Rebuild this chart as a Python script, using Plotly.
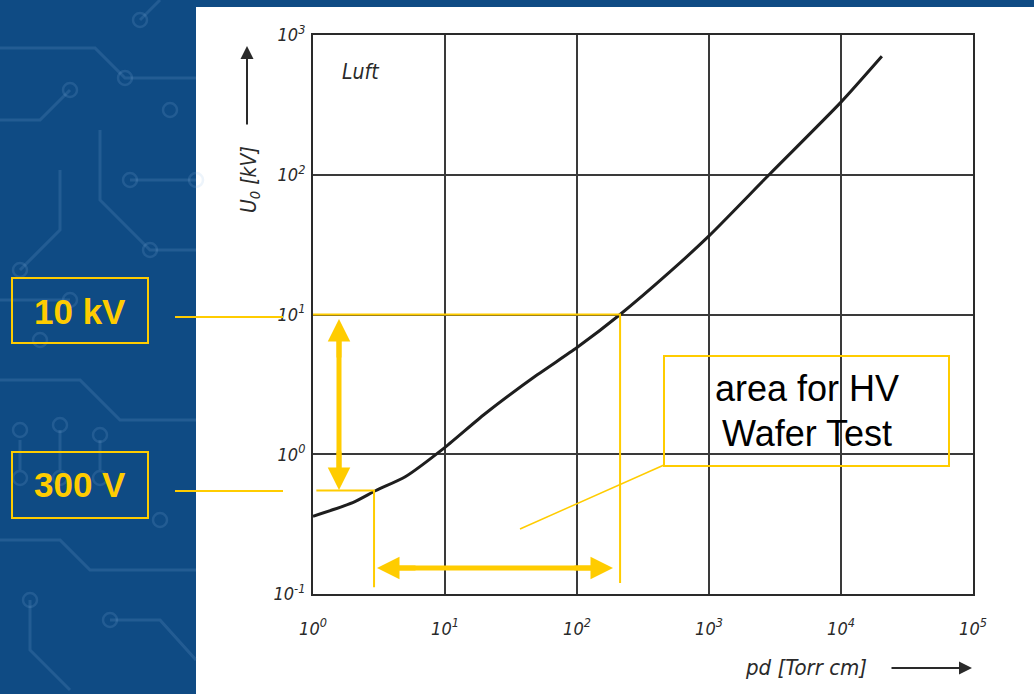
import plotly.graph_objects as go

# ---------------- data ----------------
pd_torr_cm = [1, 2, 3, 5, 10, 20, 50, 100, 212, 500, 1000, 2850, 10000, 20400]
u0_kv = [0.36, 0.45, 0.55, 0.69, 1.12, 1.94, 3.7, 5.8, 10, 20, 36.5, 100, 331, 705]

x_tickvals = [1, 10, 100, 1000, 10000, 100000]
x_ticktext = ["10<sup>0</sup>", "10<sup>1</sup>", "10<sup>2</sup>", "10<sup>3</sup>",
              "10<sup>4</sup>", "10<sup>5</sup>"]
y_tickvals = [0.1, 1, 10, 100, 1000]
y_ticktext = ["10<sup>-1</sup>", "10<sup>0</sup>", "10<sup>1</sup>", "10<sup>2</sup>", "10<sup>3</sup>"]

# marked operating points
hv_pd, hv_u = 212, 10        # 10 kV crossing
lv_pd, lv_u = 2.9, 0.55      # "300 V" crossing
guide_bottom_u = 0.12

YEL = "#FFCC00"
BLUE = "#0f4b84"

W, H = 1034, 694
PL, PR, PT, PB = 313, 973, 35, 594   # plot area in pixels


def px(x):
    return (x - PL) / (PR - PL)


def py(y):
    return (PB - y) / (PB - PT)


fig = go.Figure()

# Paschen curve
fig.add_trace(go.Scatter(x=pd_torr_cm, y=u0_kv, mode="lines",
                         line=dict(color="#1e1e1e", width=3, shape="spline", smoothing=0.6),
                         hoverinfo="skip", showlegend=False))

# yellow guide lines inside the plot (data coordinates)
fig.add_trace(go.Scatter(x=[1, hv_pd, hv_pd], y=[hv_u, hv_u, guide_bottom_u], mode="lines",
                         line=dict(color=YEL, width=2), hoverinfo="skip", showlegend=False))
fig.add_trace(go.Scatter(x=[1.06, lv_pd, lv_pd], y=[lv_u, lv_u, guide_bottom_u * 0.93], mode="lines",
                         line=dict(color=YEL, width=2), hoverinfo="skip", showlegend=False))

shapes = []
# white scanned-figure background
shapes.append(dict(type="rect", xref="paper", yref="paper", x0=px(196), x1=px(1040),
                   y0=py(7), y1=py(700), fillcolor="white", line=dict(width=0), layer="below"))

# circuit-board decoration in the left panel
dec = "rgba(140,185,230,0.16)"
paths = [
    [(0, 48), (95, 48), (125, 78), (196, 78)],
    [(0, 120), (40, 120), (70, 90)],
    [(60, 170), (60, 230), (20, 270)],
    [(0, 300), (70, 300)],
    [(100, 130), (100, 200), (150, 250), (196, 250)],
    [(130, 180), (196, 180)],
    [(0, 380), (80, 380), (120, 420), (196, 420)],
    [(20, 440), (20, 470)],
    [(60, 430), (60, 470)],
    [(100, 440), (100, 470)],
    [(0, 540), (60, 540), (90, 570), (196, 570)],
    [(30, 600), (30, 650), (70, 690)],
    [(110, 620), (160, 620), (196, 660)],
    [(140, 20), (160, 0)],
]
for p in paths:
    d = "M " + " L ".join(f"{px(a)},{py(b)}" for a, b in p)
    shapes.append(dict(type="path", xref="paper", yref="paper", path=d,
                       line=dict(color=dec, width=3), layer="below"))
circles = [(70, 90), (125, 78), (20, 270), (70, 300), (196, 180), (130, 180),
           (20, 430), (60, 425), (100, 435), (20, 478), (60, 478), (100, 478),
           (150, 250), (30, 600), (110, 620), (140, 20), (170, 110), (40, 340), (160, 520)]
for cx, cy in circles:
    r = 7
    shapes.append(dict(type="circle", xref="paper", yref="paper",
                       x0=px(cx - r), x1=px(cx + r), y0=py(cy + r), y1=py(cy - r),
                       line=dict(color=dec, width=2.5), layer="below"))

# yellow boxes
for (x0, y0, x1, y1) in [(12, 278, 148, 343), (12, 452, 148, 518)]:
    shapes.append(dict(type="rect", xref="paper", yref="paper", x0=px(x0), x1=px(x1),
                       y0=py(y1), y1=py(y0), line=dict(color=YEL, width=2)))
shapes.append(dict(type="rect", xref="paper", yref="paper", x0=px(664), x1=px(949),
                   y0=py(466), y1=py(356), line=dict(color=YEL, width=2)))
# connectors from labels
for y in (317, 491):
    shapes.append(dict(type="line", xref="paper", yref="paper", x0=px(175), x1=px(283),
                       y0=py(y), y1=py(y), line=dict(color=YEL, width=2)))
shapes.append(dict(type="line", xref="paper", yref="paper", x0=px(520), x1=px(664),
                   y0=py(529), y1=py(465), line=dict(color=YEL, width=1.5)))
# thick arrow shafts
shapes.append(dict(type="line", xref="paper", yref="paper", x0=px(339), x1=px(339),
                   y0=py(335), y1=py(475), line=dict(color=YEL, width=5)))
shapes.append(dict(type="line", xref="paper", yref="paper", x0=px(393), x1=px(597),
                   y0=py(568), y1=py(568), line=dict(color=YEL, width=5)))

annotations = []


def label(x, y, text, size, color, **kw):
    f = dict(family="Liberation Sans, Arial", size=size, color=color)
    f.update(kw.pop("font", {}))
    annotations.append(dict(x=px(x), y=py(y), xref="paper", yref="paper", text=text,
                            showarrow=False, xanchor="center", yanchor="middle", font=f, **kw))


# label texts
label(80, 311, "<b>10 kV</b>", 35, YEL)
label(80, 485, "<b>300 V</b>", 35, YEL)
label(807, 389, "area for HV", 36, "black")
label(807, 433, "Wafer Test", 36, "black")


# arrows
def arrow(x, y, ax, ay, width=5, size=0.9, color=YEL):
    annotations.append(dict(x=px(x), y=py(y), xref="paper", yref="paper", ax=ax, ay=ay,
                            axref="pixel", ayref="pixel", text="", showarrow=True,
                            arrowhead=2, arrowsize=size, arrowwidth=width, arrowcolor=color))


arrow(339, 319, 0, 40)
arrow(339, 490, 0, -40)
arrow(377, 568, 40, 0)
arrow(613, 568, -40, 0)

# scanned figure texts
tf = dict(family="DejaVu Sans Condensed, DejaVu Sans", color="#2a2a2a", style="italic")
label(360, 72, "Luft", 21, "#2a2a2a", font=tf)
label(250, 180, "U<sub>0</sub> [kV]", 21, "#2a2a2a", font=tf, textangle=-90)
label(806, 667, "pd [Torr cm]", 22, "#2a2a2a", font=tf)
arrow(247, 46, 0, 80, width=2, size=1.3, color="#2a2a2a")
arrow(972, 668, -82, 0, width=2, size=1.3, color="#2a2a2a")

tickf = dict(family="DejaVu Sans Condensed, DejaVu Sans", size=18, color="#2a2a2a", style="italic")
fig.update_layout(
    width=W, height=H,
    margin=dict(l=PL, r=W - PR, t=PT, b=H - PB),
    paper_bgcolor=BLUE, plot_bgcolor="white",
    shapes=shapes, annotations=annotations, showlegend=False,
    xaxis=dict(type="log", range=[0, 5], tickvals=x_tickvals, ticktext=x_ticktext,
               showgrid=True, gridcolor="#3a3a3a", gridwidth=1.5,
               showline=True, linecolor="#2a2a2a", linewidth=2, mirror=True,
               ticks="", ticklabelstandoff=17, zeroline=False, tickfont=tickf),
    yaxis=dict(type="log", range=[-1, 3], tickvals=y_tickvals, ticktext=y_ticktext,
               showgrid=True, gridcolor="#3a3a3a", gridwidth=1.5,
               showline=True, linecolor="#2a2a2a", linewidth=2, mirror=True,
               ticks="", ticklabelstandoff=2, zeroline=False, tickfont=tickf),
)

fig.write_html("out.html")
